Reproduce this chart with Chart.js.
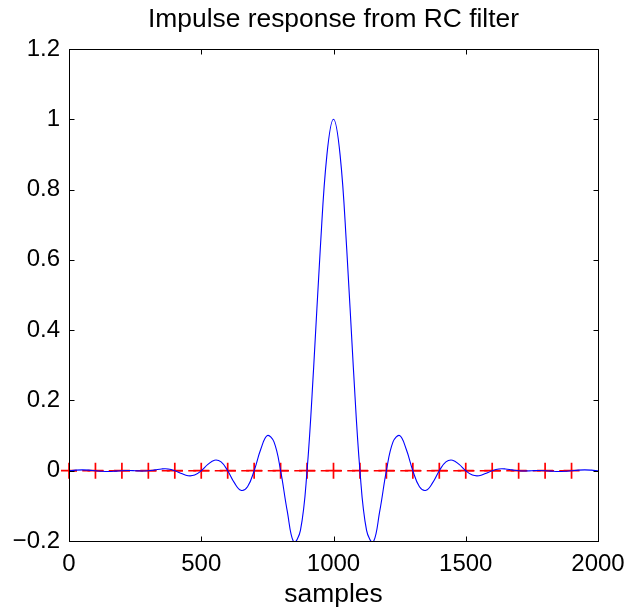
<!DOCTYPE html>
<html lang="en">
<head>
    <meta charset="UTF-8">
    <title>Impulse response from RC filter</title>
    <script src="https://cdn.jsdelivr.net/npm/chart.js"></script>
    <style>
        body { margin: 0; background: #fff; }
        #wrap { width: 628px; height: 611px; }
    </style>
</head>
<body>
    <div id="wrap"><canvas id="rcChart"></canvas></div>

    <script>
        // blue curve, every 25 samples
        const samples = [0, 25, 50, 75, 100, 125, 150, 175, 200, 225, 250, 275, 300, 325, 350, 375,
            400, 425, 450, 475, 500, 525, 550, 575, 600, 625, 650, 675, 700, 725, 750, 775,
            800, 825, 850, 875, 900, 925, 950, 975, 1000, 1025, 1050, 1075, 1100, 1125, 1150, 1175,
            1200, 1225, 1250, 1275, 1300, 1325, 1350, 1375, 1400, 1425, 1450, 1475, 1500, 1525, 1550, 1575,
            1600, 1625, 1650, 1675, 1700, 1725, 1750, 1775, 1800, 1825, 1850, 1875, 1900, 1925, 1950, 1975, 2000];
        const response = [0, 0.0016, 0.0024, 0.0017, 0, -0.0016, -0.0021, -0.0013, 0, 0.0005, 0, -0.0007, 0, 0.0024, 0.005, 0.0049,
            0, -0.0081, -0.0143, -0.0124, 0, 0.0179, 0.030, 0.025, 0, -0.034, -0.0557, -0.0456, 0, 0.061, 0.100, 0.082,
            0, -0.1145, -0.203, -0.170, 0, 0.294, 0.631, 0.898, 1.000, 0.898, 0.631, 0.294, 0, -0.170, -0.203, -0.1145,
            0, 0.082, 0.100, 0.061, 0, -0.0456, -0.0557, -0.034, 0, 0.025, 0.030, 0.0179, 0, -0.0124, -0.0143, -0.0081,
            0, 0.0049, 0.005, 0.0024, 0, -0.0007, 0, 0.0005, 0, -0.0013, -0.0021, -0.0016, 0, 0.0017, 0.0024, 0.0016, 0];

        // red markers (sampling instants)
        const markerSamples = [0, 100, 200, 300, 400, 500, 600, 700, 800, 900,
            1000, 1100, 1200, 1300, 1400, 1500, 1600, 1700, 1800, 1900];
        const markerValues = [0, 0, 0, 0, 0, 0, 0, 0, 0, 0, 0, 0, 0, 0, 0, 0, 0, 0, 0, 0];

        const xTicks = [0, 500, 1000, 1500, 2000];
        const yTicks = [-0.2, 0, 0.2, 0.4, 0.6, 0.8, 1, 1.2];

        const titleText = 'Impulse response from RC filter';
        const fontFamily = '"Liberation Sans", Arial, Helvetica, sans-serif';

        // matlab style box with inward ticks, title centred over the axes
        const boxPlugin = {
            id: 'box',
            afterDraw(chart) {
                const ctx = chart.ctx;
                const a = chart.chartArea;
                const L = Math.round(a.left) + 0.5, R = Math.round(a.right) + 0.5;
                const T = Math.round(a.top) + 0.5, B = Math.round(a.bottom) + 0.5;
                const len = 5;
                ctx.save();
                ctx.strokeStyle = '#000';
                ctx.lineWidth = 1;
                ctx.strokeRect(L, T, R - L, B - T);
                ctx.beginPath();
                chart.scales.x.ticks.forEach(t => {
                    const px = Math.round(chart.scales.x.getPixelForValue(t.value)) + 0.5;
                    ctx.moveTo(px, B); ctx.lineTo(px, B - len);
                    ctx.moveTo(px, T); ctx.lineTo(px, T + len);
                });
                chart.scales.y.ticks.forEach(t => {
                    const py = Math.round(chart.scales.y.getPixelForValue(t.value)) + 0.5;
                    ctx.moveTo(L, py); ctx.lineTo(L + len, py);
                    ctx.moveTo(R, py); ctx.lineTo(R - len, py);
                });
                ctx.stroke();

                ctx.fillStyle = '#000';
                ctx.font = '26.4px ' + fontFamily;
                ctx.textAlign = 'center';
                ctx.textBaseline = 'alphabetic';
                ctx.fillText(titleText, (a.left + a.right) / 2, 27);
                ctx.restore();
            }
        };

        const fmt = v => String(Number(v.toFixed(1))).replace('-', '\u2212');

        const ctx = document.getElementById('rcChart').getContext('2d');
        new Chart(ctx, {
            type: 'line',
            data: {
                datasets: [{
                    label: 'impulse response',
                    data: samples.map((s, i) => ({ x: s, y: response[i] })),
                    borderColor: '#0000ff',
                    borderWidth: 1.1,
                    pointRadius: 0,
                    tension: 0.4,
                    fill: false
                }, {
                    label: 'samples',
                    data: markerSamples.map((s, i) => ({ x: s, y: markerValues[i] })),
                    borderColor: '#ff0000',
                    backgroundColor: '#ff0000',
                    borderWidth: 1.5,
                    borderDash: [8, 5.25],
                    pointStyle: 'cross',
                    pointRadius: 8,
                    pointBorderWidth: 1.7,
                    clip: false
                }]
            },
            options: {
                responsive: true,
                maintainAspectRatio: false,
                animation: false,
                layout: { padding: { left: 0, right: 30, top: 49, bottom: 0 } },
                plugins: {
                    legend: { display: false },
                    tooltip: { enabled: false },
                    title: { display: false }
                },
                scales: {
                    x: {
                        type: 'linear',
                        min: 0,
                        max: 2000,
                        afterBuildTicks: s => { s.ticks = xTicks.map(v => ({ value: v })); },
                        afterFit: s => { s.height = 70; s.paddingLeft = 0; s.paddingRight = 0; },
                        grid: { display: false, drawTicks: false },
                        border: { display: false },
                        ticks: {
                            color: '#000',
                            padding: 9,
                            maxRotation: 0,
                            font: { family: fontFamily, size: 24 },
                            callback: v => String(v)
                        },
                        title: {
                            display: true,
                            text: 'samples',
                            color: '#000',
                            padding: { top: 2, bottom: 0 },
                            font: { family: fontFamily, size: 26.4 }
                        }
                    },
                    y: {
                        type: 'linear',
                        min: -0.2,
                        max: 1.2,
                        afterBuildTicks: s => { s.ticks = yTicks.map(v => ({ value: v })); },
                        afterFit: s => { s.width = 69; s.paddingTop = 0; s.paddingBottom = 0; },
                        grid: { display: false, drawTicks: false },
                        border: { display: false },
                        ticks: {
                            color: '#000',
                            padding: 9,
                            font: { family: fontFamily, size: 24 },
                            callback: v => fmt(v)
                        }
                    }
                }
            },
            plugins: [boxPlugin]
        });
    </script>
</body>
</html>
